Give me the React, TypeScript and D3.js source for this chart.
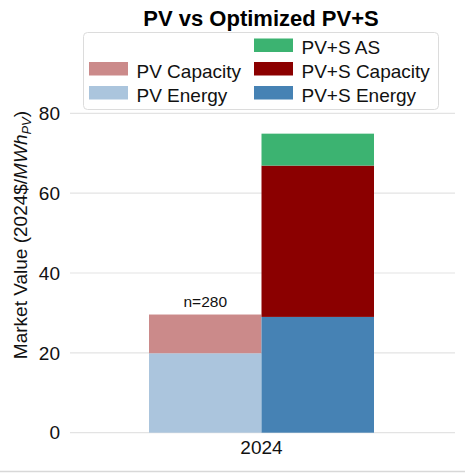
import React from "react";
import * as d3 from "d3";

const categories = ["2024"];
const pvEnergy = [19.9];
const pvCapacity = [9.7];
const pvsEnergy = [29.0];
const pvsCapacity = [37.9];
const pvsAS = [8.0];
const sampleLabels = ["n=280"];
const yTicks = [0, 20, 40, 60, 80];

const colors: Record<string, string> = {
  "PV Energy": "#abc5dd",
  "PV Capacity": "#cb8a8a",
  "PV+S Energy": "#4682b4",
  "PV+S Capacity": "#8b0000",
  "PV+S AS": "#3cb371",
};

const W = 465;
const H = 473;
const font = "'Liberation Sans', Arial, sans-serif";

export default function App() {
  const y = d3.scaleLinear().domain([0, 80]).range([432.7, 113.3]);
  const x = d3.scaleBand().domain(categories).range([68, 455]).paddingOuter(0.36).paddingInner(0);
  const sub = d3.scaleBand().domain(["PV", "PV+S"]).range([0, x.bandwidth()]);

  const rows = categories.map((c, i) => ({
    cat: c,
    "PV Energy": pvEnergy[i],
    "PV Capacity": pvCapacity[i],
    "PV+S Energy": pvsEnergy[i],
    "PV+S Capacity": pvsCapacity[i],
    "PV+S AS": pvsAS[i],
  }));
  const pvStack = d3.stack<any>().keys(["PV Energy", "PV Capacity"])(rows);
  const pvsStack = d3.stack<any>().keys(["PV+S Energy", "PV+S Capacity", "PV+S AS"])(rows);

  const bars: any[] = [];
  const addBars = (stack: any[], group: string) => {
    stack.forEach((s) => {
      s.forEach((d: any, i: number) => {
        const x0 = (x(categories[i]) ?? 0) + (sub(group) ?? 0);
        bars.push(
          <rect
            key={s.key + i}
            x={x0}
            width={sub.bandwidth()}
            y={y(d[1])}
            height={y(d[0]) - y(d[1])}
            fill={colors[s.key]}
          />
        );
      });
    });
  };
  addBars(pvStack, "PV");
  addBars(pvsStack, "PV+S");

  const legendCol1 = [null, "PV Capacity", "PV Energy"];
  const legendCol2 = ["PV+S AS", "PV+S Capacity", "PV+S Energy"];
  const rowY = [45, 68.5, 92.5];

  return (
    <svg width={W} height={H} style={{ position: "absolute", left: 0, top: 0 }} fontFamily={font}>
      <rect width={W} height={H} fill="#fff" />
      {yTicks.map((t) => (
        <g key={t}>
          <line x1={70} x2={455} y1={y(t)} y2={y(t)} stroke="#e3e3e3" strokeWidth={1.2} />
          <text x={60} y={y(t)} dy="0.35em" textAnchor="end" fontSize={19} fill="#111">
            {t}
          </text>
        </g>
      ))}
      {bars}
      {categories.map((c, i) => (
        <g key={c}>
          <text
            x={(x(c) ?? 0) + x.bandwidth() / 2}
            y={453.5}
            textAnchor="middle"
            fontSize={19}
            fill="#111"
          >
            {c}
          </text>
          <text
            x={(x(c) ?? 0) + (sub("PV") ?? 0) + sub.bandwidth() / 2}
            y={y(pvEnergy[i] + pvCapacity[i]) - 7.5}
            textAnchor="middle"
            fontSize={15.5}
            fill="#111"
          >
            {sampleLabels[i]}
          </text>
        </g>
      ))}
      <text
        transform={`translate(27, 235) rotate(-90)`}
        textAnchor="middle"
        fontSize={19}
        fill="#111"
      >
        Market Value (2024$/
        <tspan fontStyle="italic">MWh</tspan>
        <tspan fontStyle="italic" fontSize={13} dy={3.5}>
          PV
        </tspan>
        <tspan dy={-3.5}>)</tspan>
      </text>
      <text x={261} y={26} textAnchor="middle" fontSize={22} fontWeight="bold" fill="#000">
        PV vs Optimized PV+S
      </text>
      <rect x={83.5} y={32.5} width={355} height={77} rx={4} fill="#fff" fillOpacity={0.85} stroke="#dcdcdc" />
      {legendCol1.map((name, i) =>
        name ? (
          <g key={name}>
            <rect x={89} y={rowY[i] - 6.5} width={39} height={13.5} fill={colors[name]} />
            <text x={136.5} y={rowY[i] + 9} fontSize={19} fill="#111">
              {name}
            </text>
          </g>
        ) : null
      )}
      {legendCol2.map((name, i) => (
        <g key={name}>
          <rect x={254} y={rowY[i] - 6.5} width={39} height={13.5} fill={colors[name]} />
          <text x={301.5} y={rowY[i] + 9} fontSize={19} fill="#111">
            {name}
          </text>
        </g>
      ))}
      <line x1={0} x2={W} y1={471.5} y2={471.5} stroke="#d8d8d8" strokeWidth={1.5} />
    </svg>
  );
}
